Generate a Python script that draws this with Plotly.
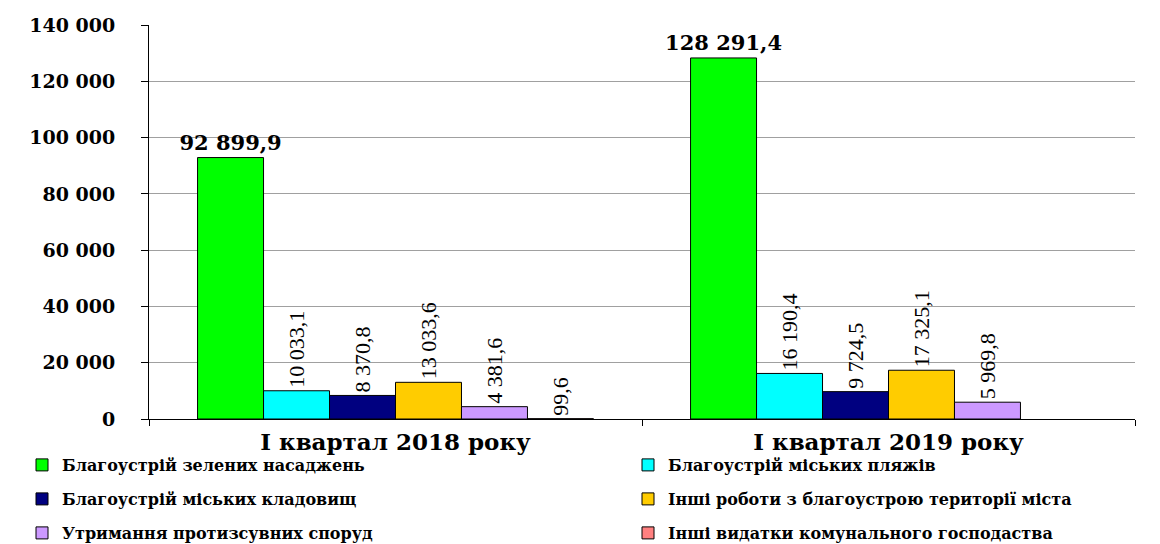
import plotly.graph_objects as go

categories = ["І квартал 2018 року", "І квартал 2019 року"]

series_names = [
    "Благоустрій зелених насаджень",
    "Благоустрій міських пляжів",
    "Благоустрій міських кладовищ",
    "Інші роботи з благоустрою території міста",
    "Утримання протизсувних споруд",
    "Інші видатки комунального господаства",
]

green_values = [92899.9, 128291.4]
beaches_values = [10033.1, 16190.4]
cemeteries_values = [8370.8, 9724.5]
other_works_values = [13033.6, 17325.1]
landslide_values = [4381.6, 5969.8]
other_expenses_values = [99.6, None]

series_values = [green_values, beaches_values, cemeteries_values,
                 other_works_values, landslide_values, other_expenses_values]
colors = ["#00FF00", "#00FFFF", "#000080", "#FFCC00", "#CC99FF", "#FF8080"]

y_ticks = [0, 20000, 40000, 60000, 80000, 100000, 120000, 140000]

W, H = 1160, 544
ML, MR, MT, MB = 149, 25, 25, 125
plot_h = H - MT - MB
plot_w = W - ML - MR


def px_to_paper_y(py):
    return (H - MB - py) / plot_h


def px_to_paper_x(px):
    return (px - ML) / plot_w


fig = go.Figure()
legend_ids = ["legend", "legend2", "legend3", "legend4", "legend5", "legend6"]
for i, (name, vals, col) in enumerate(zip(series_names, series_values, colors)):
    first = i == 0
    fig.add_trace(go.Bar(
        x=categories, y=vals, name=name,
        marker=dict(color=col, line=dict(color="#000000", width=1)),
        texttemplate="%{y:,.1f}",
        textposition="outside",
        textangle=0 if first else -90,
        textfont=dict(family="DejaVu Serif", size=21, color="#000000", weight="bold") if first
        else dict(family="Liberation Serif", size=22, color="#000000"),
        constraintext="none",
        cliponaxis=False,
        legend=legend_ids[i],
    ))

# legend grid: 2 columns x 3 rows
col_px = [22, 628]
row_px = [465, 499, 533]
legend_layout = {}
for i, lid in enumerate(legend_ids):
    legend_layout[lid] = dict(
        orientation="h", xanchor="left", yanchor="middle",
        x=px_to_paper_x(col_px[i % 2]), y=px_to_paper_y(row_px[i // 2]),
        font=dict(family="DejaVu Serif", size=16, color="#000000", weight="bold"),
        bgcolor="rgba(0,0,0,0)", borderwidth=0,
    )

fig.update_layout(
    width=W, height=H,
    margin=dict(l=ML, r=MR, t=MT, b=MB, pad=0, autoexpand=False),
    paper_bgcolor="white", plot_bgcolor="white",
    barmode="group", bargap=0.197, bargroupgap=0,
    separators=", ",
    showlegend=True,
    **legend_layout,
)

fig.update_yaxes(
    range=[0, 140000], tickvals=y_ticks, tickformat=",d",
    showgrid=True, gridcolor="#A0A0A0", gridwidth=1,
    showline=True, linecolor="#000000", linewidth=1,
    ticks="outside", ticklen=7, tickcolor="#000000",
    ticklabelstandoff=22,
    tickfont=dict(family="DejaVu Serif", size=19, color="#000000", weight="bold"),
    zeroline=False,
)
fig.update_xaxes(
    showline=True, linecolor="#000000", linewidth=1,
    ticks="outside", ticklen=6, tickcolor="#000000", tickson="boundaries",
    tickfont=dict(family="DejaVu Serif", size=23, color="#000000", weight="bold"),
    ticklabelstandoff=2,
)

fig.write_html("out.html", include_plotlyjs=True,
               config={"displayModeBar": False, "responsive": False},
               post_script="document.body.style.margin='0';")
